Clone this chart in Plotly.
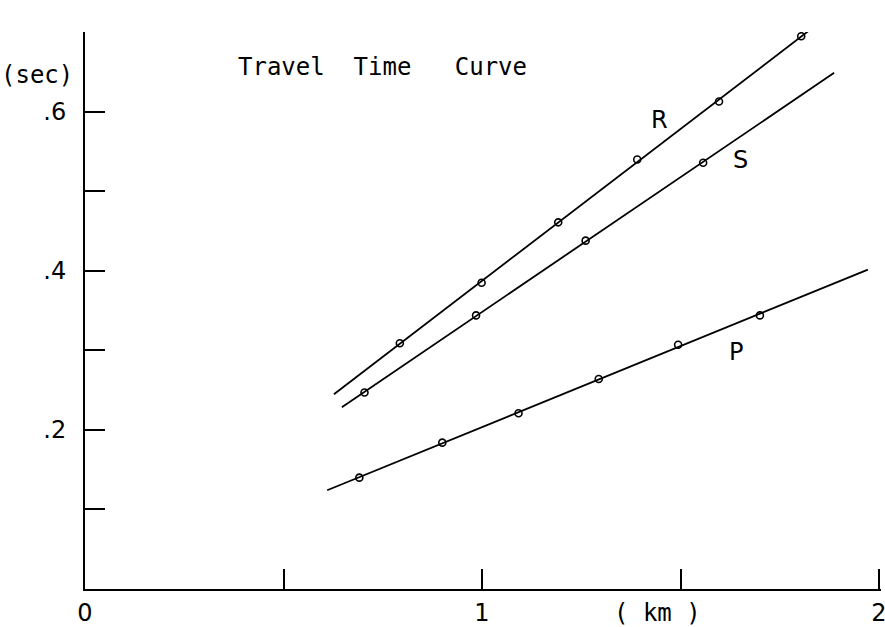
import numpy as np
import plotly.graph_objects as go

# Arrival times (sec) against distance (km) for the three phases
r_dist = [0.793, 0.999, 1.192, 1.391, 1.597, 1.804]
r_time = [0.309, 0.385, 0.461, 0.540, 0.613, 0.695]
s_dist = [0.704, 0.985, 1.261, 1.557]
s_time = [0.247, 0.344, 0.438, 0.536]
p_dist = [0.691, 0.900, 1.092, 1.294, 1.494, 1.700]
p_time = [0.140, 0.184, 0.221, 0.264, 0.307, 0.344]

# Distance range covered by each fitted straight line
r_span = [0.627, 1.882]
s_span = [0.647, 1.887]
p_span = [0.610, 1.972]

x_tick_vals = [0, 0.5, 1, 1.5, 2]
x_tick_text = ["0", "", "1", "", "2"]
y_tick_vals = [0.1, 0.2, 0.3, 0.4, 0.5, 0.6, 0.7]
y_tick_text = ["", ".2", "", ".4", "", ".6", ""]

FONT = "DejaVu Sans Mono"
NUM_FONT = "DejaVu Sans"
INK = "black"

fig = go.Figure()

for dist, time, span in [(r_dist, r_time, r_span),
                         (s_dist, s_time, s_span),
                         (p_dist, p_time, p_span)]:
    slope, icpt = np.polyfit(dist, time, 1)
    xs = np.array(span)
    fig.add_trace(go.Scatter(x=xs, y=slope * xs + icpt, mode="lines",
                             line=dict(color=INK, width=1.8),
                             hoverinfo="skip", showlegend=False))
    fig.add_trace(go.Scatter(x=dist, y=time, mode="markers",
                             marker=dict(symbol="circle-open", size=7,
                                         color=INK, line=dict(width=1.6)),
                             showlegend=False))

# Phase labels beside each line
for txt, x, y in [("R", 1.447, 0.590), ("S", 1.651, 0.540), ("P", 1.639, 0.298)]:
    fig.add_annotation(x=x, y=y, text=txt, showarrow=False,
                       font=dict(family=NUM_FONT, size=24, color=INK))

fig.add_annotation(x=0.38, y=0.656, text="Travel  Time   Curve", showarrow=False,
                   xanchor="left", font=dict(family=FONT, size=24, color=INK))
fig.add_annotation(x=1.443, y=0, yshift=-24, text="( km )", showarrow=False,
                   font=dict(family=FONT, size=24, color=INK))
fig.add_annotation(x=0, y=0.646, xshift=-10, text="(sec)", showarrow=False,
                   xanchor="right", font=dict(family=FONT, size=24, color=INK))

axis_common = dict(showgrid=False, zeroline=False, showline=True,
                   linecolor=INK, linewidth=2, ticks="inside", ticklen=20,
                   tickwidth=2, tickcolor=INK, automargin=False,
                   ticklabeloverflow="allow",
                   tickfont=dict(family=NUM_FONT, size=24, color=INK))

fig.update_xaxes(range=[0, 2.005], tickmode="array", tickvals=x_tick_vals,
                 ticktext=x_tick_text, ticklabelstandoff=1, **axis_common)
fig.update_yaxes(range=[0, 0.7003], tickmode="array", tickvals=y_tick_vals,
                 ticktext=y_tick_text, ticklabelstandoff=12, **axis_common)

fig.update_layout(width=885, height=627,
                  margin=dict(l=85, r=4, t=32, b=38),
                  plot_bgcolor="white", paper_bgcolor="white",
                  showlegend=False)

fig.write_html("out.html")
